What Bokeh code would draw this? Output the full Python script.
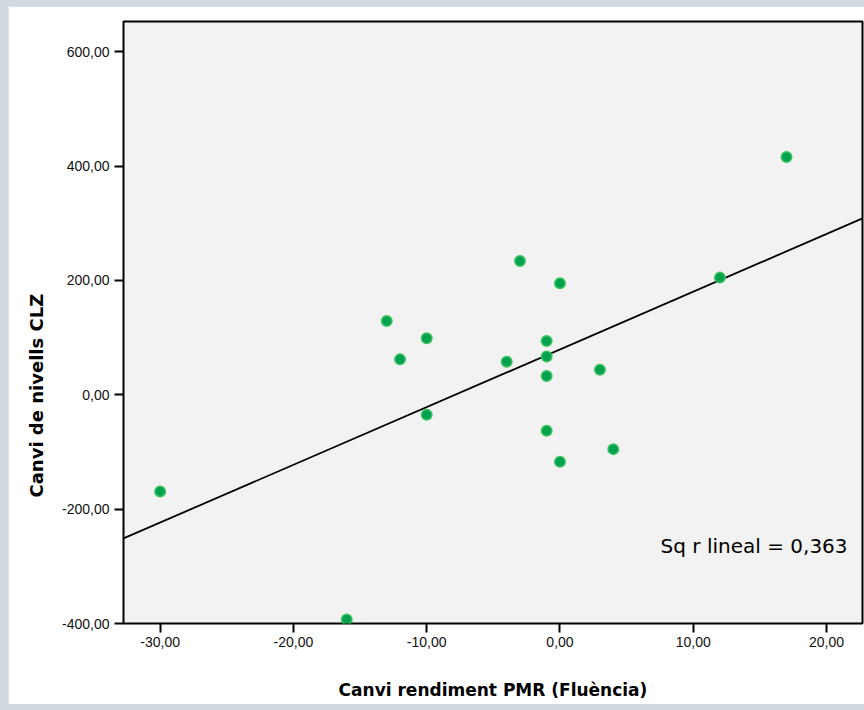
import numpy as np
from bokeh.plotting import figure
from bokeh.models import Range1d, FixedTicker, Label, Title, GlobalInlineStyleSheet
from bokeh.embed import file_html
from bokeh.resources import INLINE

# ---- data ----
pmr_change = [-30, -16, -13, -12, -10, -10, -4, -3, -1, -1, -1, -1, 0, 0, 3, 4, 12, 17]
clz_change = [-169, -393, 129, 62, 99, -35, 58, 234, 94, 67, 33, -63, 195, -117, 44, -95, 205, 416]

x_ticks = [-30, -20, -10, 0, 10, 20]
x_tick_labels = ["-30,00", "-20,00", "-10,00", "0,00", "10,00", "20,00"]
y_ticks = [-400, -200, 0, 200, 400, 600]
y_tick_labels = ["-400,00", "-200,00", "0,00", "200,00", "400,00", "600,00"]

x_title = "Canvi rendiment PMR (Fluència)"
y_title = "Canvi de nivells CLZ"
r_sq_text = "Sq r lineal = 0,363"

# ---- figure ----
p = figure(width=856, height=698, output_backend="svg", toolbar_location=None,
           x_range=Range1d(-32.75, 22.7), y_range=Range1d(-400, 653),
           min_border_left=115, min_border_right=2, min_border_top=15, min_border_bottom=81)
p.background_fill_color = "#f2f2f2"
p.border_fill_color = "white"
p.outline_line_color = "black"
p.outline_line_width = 2
p.grid.visible = False
p.styles = {"margin-left": "8px", "margin-top": "6px"}
p.stylesheets = [GlobalInlineStyleSheet(css="html, body { background-color: #d0dae0; }")]

for ax, ticks, labels in ((p.xaxis[0], x_ticks, x_tick_labels), (p.yaxis[0], y_ticks, y_tick_labels)):
    ax.ticker = FixedTicker(ticks=ticks)
    ax.major_label_overrides = {t: l for t, l in zip(ticks, labels)}
    ax.minor_tick_line_color = None
    ax.major_tick_in = 0
    ax.major_tick_out = 9
    ax.major_tick_line_width = 2
    ax.major_tick_line_color = "black"
    ax.axis_line_color = None
    ax.major_label_text_font = "Liberation Sans"
    ax.major_label_text_font_size = "14px"
    ax.major_label_text_color = "#111111"

p.xaxis.major_label_standoff = 4
p.yaxis.major_label_standoff = 5

p.xaxis.axis_label = x_title
p.xaxis.axis_label_text_font = "DejaVu Sans"
p.xaxis.axis_label_text_font_style = "bold"
p.xaxis.axis_label_text_font_size = "17px"
p.xaxis.axis_label_text_color = "black"
p.xaxis.axis_label_standoff = 30

# y title as a side title left of the axis (sits lower than centre, as in the reference)
p.add_layout(Title(text=y_title, align="left", offset=126, standoff=25,
                   text_font="DejaVu Sans", text_font_style="bold",
                   text_font_size="18px", text_color="black"), "left")

# regression line from the data
slope, intercept = np.polyfit(np.array(pmr_change, float), np.array(clz_change, float), 1)
xs = np.array([p.x_range.start, p.x_range.end])
p.line(xs, slope * xs + intercept, line_color="black", line_width=1.8)

# points
p.scatter(pmr_change, clz_change, size=10.5, fill_color="#00a24f",
          line_color="#3cc35f", line_width=1.5)

# R squared annotation
p.add_layout(Label(x=21.58, y=-264, text=r_sq_text, text_align="right",
                   text_baseline="alphabetic", text_font="DejaVu Sans",
                   text_font_size="20px", text_color="black"))

open("out.html", "w").write(file_html(p, INLINE))
